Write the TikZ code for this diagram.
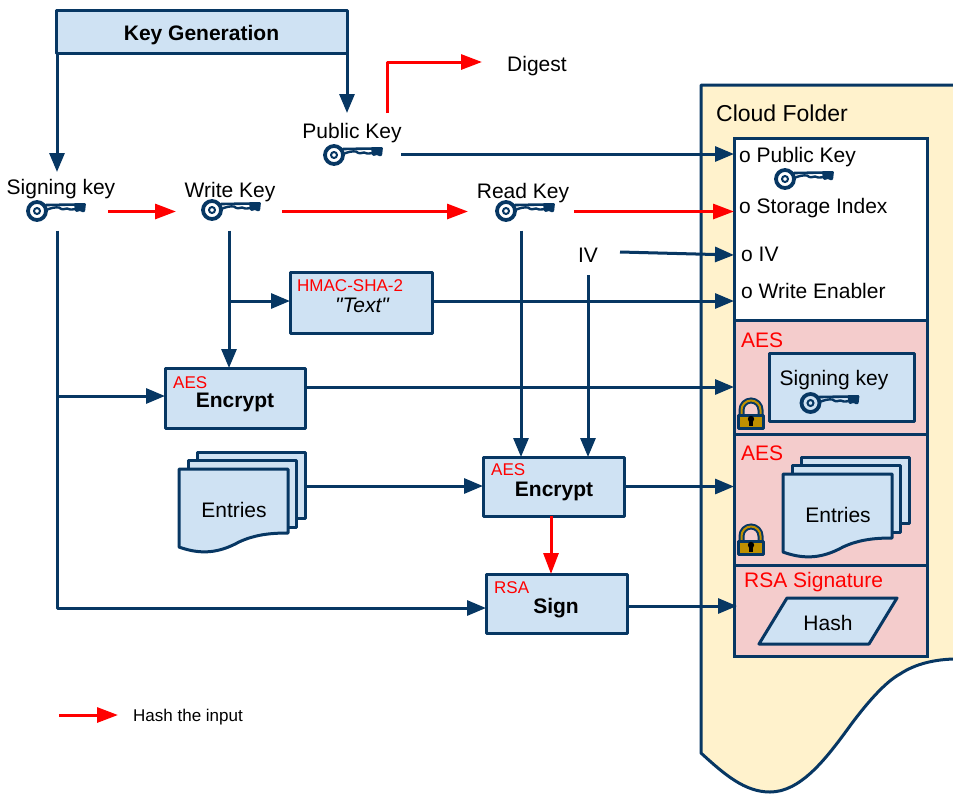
\documentclass[tikz,border=0pt]{standalone}
\usepackage{fontspec}
\setmainfont{Liberation Sans}
\newfontfamily\straightfont{Liberation Sans}
\usepackage{xcolor}
\usepackage{tikz}
\usetikzlibrary{calc,arrows.meta}
\definecolor{navy}{HTML}{073763}
\definecolor{boxblue}{HTML}{CFE2F3}
\definecolor{boxpink}{HTML}{F4CCCC}
\definecolor{folder}{HTML}{FFF2CC}
\definecolor{hashred}{HTML}{FF0000}
\definecolor{lockgold}{HTML}{BF9000}
\tikzset{
  flow/.style={draw=navy, line width=3pt, line join=round, -{Triangle[length=19pt,width=15pt]}},
  hashflow/.style={draw=hashred, line width=3pt, line join=round, -{Triangle[length=21pt,width=15pt]}},
  box/.style={draw=navy, fill=boxblue, line width=3pt, line join=round, inner sep=0pt, outer sep=0pt},
  pinkbox/.style={draw=navy, fill=boxpink, line width=3pt, inner sep=0pt, outer sep=0pt, minimum width=193pt},
  sheet/.style={draw=navy, fill=boxblue, line width=3pt, line join=round},
  lab/.style={text=black, font=\fontsize{21}{24}\selectfont, inner sep=0pt},
  labb/.style={text=black, font=\fontsize{21}{24}\selectfont\bfseries, inner sep=0pt},
  tag/.style={text=hashred, font=\fontsize{17}{20}\selectfont, inner sep=0pt, anchor=west},
  tagb/.style={text=hashred, font=\fontsize{21}{24}\selectfont, inner sep=0pt, anchor=west},
  spot/.style={minimum width=106pt, minimum height=38pt, inner sep=0pt, outer sep=0pt},
  keyicon/.pic={
    \draw[navy, line width=3.8pt] (0,0) circle (9pt);
    \draw[navy, line width=2pt] (0,0) circle (3pt);
    \draw[navy, line width=2.6pt, line cap=round] (9,-6) -- (47,-6.6);
    \draw[navy, line width=2.4pt, line join=round] (9,-1) .. controls (14,-3) and (18,-4) .. (22,-3.5)
      .. controls (25,-1) and (27,-1.5) .. (30,-2.5) .. controls (32,-1.5) and (34,-1) .. (38,-2);
    \fill[navy, rounded corners=1pt] (37,-7.8) -- (49,-7.8) -- (48,1) -- (44,1) -- (43,-0.5) -- (41,1) -- (38,0.5) -- cycle;
  },
  padlock/.pic={
    \draw[navy, line width=6pt] (-9.5,2) -- (-9.5,-5) arc[start angle=180, end angle=0, radius=9.5pt] -- (9.5,2);
    \draw[lockgold, line width=2pt] (-9.5,2) -- (-9.5,-5) arc[start angle=180, end angle=0, radius=9.5pt] -- (9.5,2);
    \draw[navy, fill=lockgold, line width=3pt, line join=round] (-12.5,0) rectangle (12.5,13);
    \fill[black] (0,4) circle (3.2pt);
    \fill[black] (-2.2,5) rectangle (2.2,11);
  },
  sheetstack/.pic={
    \coordinate (-out) at (126,17);
    \draw[sheet] (18,-17) -- (126,-17) -- (126,49) -- (18,49) -- cycle;
    \draw[sheet] (9,-9) -- (117,-9) -- (117,58) -- (9,58) -- cycle;
    \draw[sheet] (0,0) -- (109,0) -- (109,64) .. controls (90,64) and (75,66) .. (60,73)
      .. controls (40,84) and (22,86) .. (0,78) -- cycle;
  },
}

\begin{document}
\begin{tikzpicture}[x=1pt,y=-1pt]
  \useasboundingbox (0,0) rectangle (953,793);

  % cloud folder behind everything
  \draw[draw=navy, fill=folder, line width=3pt, line join=round] (957,85) -- (701,85) -- (701,753)
    .. controls (725,775) and (745,792) .. (770,792)
    .. controls (800,792) and (825,760) .. (847,730)
    .. controls (865,705) and (885,682) .. (900,674)
    .. controls (915,664) and (935,659) .. (957,659) -- cycle;
  \node[lab, anchor=west, font=\fontsize{23}{26}\selectfont] (cloud) at (716,113) {Cloud Folder};

  \node[draw=navy, fill=white, line width=3pt, minimum width=193pt, minimum height=182pt, outer sep=0pt] (whitebox) at (830.5,229) {};
  \node[pinkbox, minimum height=114pt] (aesone) at (830.5,377) {};
  \node[pinkbox, minimum height=131pt] (aestwo) at (830.5,499.5) {};
  \node[pinkbox, minimum height=91pt] (rsabox) at (830.5,610.5) {};

  \node[lab, anchor=west] (itempub) at (739,157) {o Public Key};
  \node[lab, anchor=west] (itemidx) at (739,208) {o Storage Index};
  \node[lab, anchor=west] (itemiv) at (741,254) {o IV};
  \node[lab, anchor=west] (itemwe) at (741,291) {o Write Enabler};

  \node[tagb] (aesonetag) at (741,340) {AES};
  \node[box, minimum width=145pt, minimum height=68pt] (signwrap) at (841.5,387) {};
  \node[lab] (signwraptxt) at (834,380) {Signing key};
  \node[tagb] (aestwotag) at (741,453) {AES};
  \pic (stackr) at (783,474) {sheetstack};
  \node[lab] (entriesr) at (838,515) {Entries};
  \node[tagb] (rsatag) at (744,582) {RSA Signature};
  \draw[sheet] (787,598) -- (897,598) -- (869,644) -- (759,644) -- cycle;
  \node[lab] (hash) at (828,623) {Hash};
  \pic at (751,415) {padlock};
  \pic at (751,541) {padlock};

  % boxes on the left
  \node[box, minimum width=291pt, minimum height=43pt] (keygen) at (201.5,31.5) {};
  \node[labb] (keygentxt) at (201.5,35) {Key Generation};
  \node[box, minimum width=142pt, minimum height=61pt] (hmac) at (361,302.5) {};
  \node[tag] (hmactag) at (297,286) {HMAC-SHA-2};
  \node[lab, font=\fontsize{21}{24}\straightfont\itshape] (hmactxt) at (362,305) {"Text"};
  \node[box, minimum width=140pt, minimum height=60pt] (encone) at (235,398) {};
  \node[tag] (enconetag) at (173,383) {AES};
  \node[labb] (enconetxt) at (235,402) {Encrypt};
  \pic (stackl) at (179,469) {sheetstack};
  \node[lab] (entriesl) at (234,510) {Entries};
  \node[box, minimum width=141pt, minimum height=59pt] (enctwo) at (553.5,486.5) {};
  \node[tag] (enctwotag) at (491,470) {AES};
  \node[labb] (enctwotxt) at (554,491) {Encrypt};
  \node[box, minimum width=141pt, minimum height=59pt] (signbox) at (556.5,603.5) {};
  \node[tag] (signtag) at (494,588) {RSA};
  \node[labb] (signtxt) at (556,608) {Sign};

  % key labels and the spots round the icons
  \node[lab] (signlab) at (61,189) {Signing key};
  \node[lab] (writelab) at (230,192) {Write Key};
  \node[lab] (readlab) at (523,193) {Read Key};
  \node[lab] (publab) at (352,133) {Public Key};
  \node[lab] (digest) at (537,66) {Digest};
  \node[spot, minimum width=102pt] (signkey) at (57,211.5) {};
  \node[spot] (writekey) at (229,211.5) {};
  \node[spot] (readkey) at (521,211.5) {};
  \node[spot, minimum width=98pt] (pubkey) at (352,154) {};
  \node[spot, minimum width=64pt, minimum height=40pt, font=\fontsize{21}{24}\selectfont] (iv) at (588,255) {IV};
  \foreach \x/\y in {37/211,212/210,506/211,334/155,785/179,810.5/403}{
    \pic at (\x,\y) {keyicon};
  }
  \coordinate (keygenl) at (57,172);
  \coordinate (keygenr) at (347,113);
  \coordinate (digestin) at (482,62);
  \coordinate (digesttail) at (387,113);
  \coordinate (hmacjoin) at (229,301);
  \coordinate (enconeout) at (305,387);
  \coordinate (enconejoin) at (57,396);
  \coordinate (signin) at (486,608);
  \coordinate (signout) at (627,606);
  \coordinate (legendl) at (59,715);
  \coordinate (legendr) at (118,715);

  % navy connectors
  \draw[flow] (keygen.south west -| keygenl) -- (keygenl);
  \draw[flow] (keygen.south east -| keygenr) -- (keygenr);
  \draw[flow] (pubkey.east) -- (pubkey.east -| whitebox.west);
  \draw[flow] (iv.east) ++(0,-3) -- (iv.east -| whitebox.west);
  \draw[flow] (iv.south) -- (iv.south |- enctwo.north);
  \draw[flow] (readkey.south) -- (readkey.south |- enctwo.north);
  \draw[flow] (writekey.south) -- (writekey.south |- encone.north);
  \draw[flow] (hmacjoin) -- (hmacjoin -| hmac.west);
  \draw[flow] (hmacjoin -| hmac.east) -- (hmacjoin -| whitebox.west);
  \draw[flow] (enconeout) -- (enconeout -| aesone.west);
  \draw[flow] (signkey.south) |- (signin);
  \draw[flow] (enconejoin) -- (enconejoin -| encone.west);
  \draw[flow] (stackl-out) -- (stackl-out -| enctwo.west);
  \draw[flow] (enctwo.east) -- (enctwo.east -| aestwo.west);
  \draw[flow, shorten >=-3pt] (signout) -- (signout -| rsabox.west);

  % red connectors
  \draw[hashflow] (digesttail) |- (digestin);
  \draw[hashflow] (signkey.east) -- (signkey.east -| writekey.west);
  \draw[hashflow] (writekey.east) -- (writekey.east -| readkey.west);
  \draw[hashflow] (readkey.east) -- (readkey.east -| whitebox.west);
  \draw[hashflow] (enctwo.south -| 551,0) -- (signbox.north -| 551,0);

  % legend
  \draw[hashflow] (legendl) -- (legendr);
  \node[lab, anchor=west, font=\fontsize{17}{20}\selectfont] (legendtxt) at (133,717) {Hash the input};
\end{tikzpicture}
\end{document}
